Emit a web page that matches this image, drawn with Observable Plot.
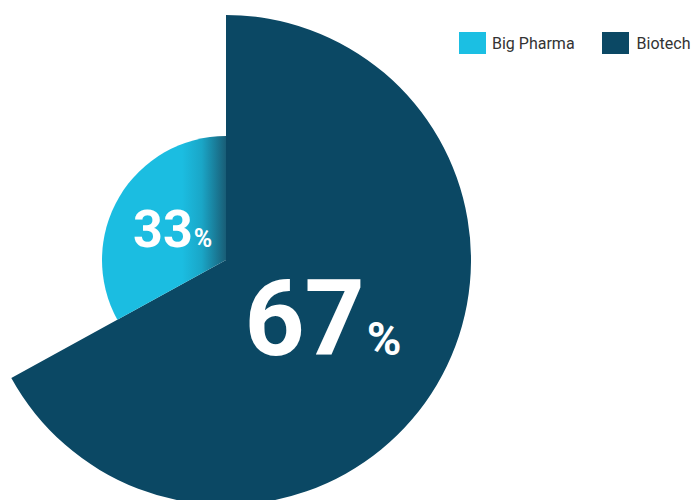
<!DOCTYPE html>
<html><head><meta charset="utf-8">
<script src="https://cdn.jsdelivr.net/npm/d3@7"></script>
<script src="https://cdn.jsdelivr.net/npm/@observablehq/plot@0.6"></script>
<style>
body{margin:0;background:#fff;font-family:Roboto,sans-serif}
#wrap{position:relative;width:691px;height:500px;overflow:hidden}
#legend{position:absolute;top:32px;left:459px;display:flex;align-items:center;font-size:16px;color:#333;white-space:nowrap;width:300px;height:22px}
.item{display:flex;align-items:center;margin-right:27px;flex:none}
.sw{width:27px;height:22px;margin-right:6px;flex:none}
.item:last-child .sw{margin-right:8px}
</style></head><body><div id="wrap"><div id="chart"></div><div id="legend"></div></div>
<script>
const categories = ["Big Pharma", "Biotech"];
const values = [33, 67];
const colors = ["#1bbfe3", "#0b4864"];

const legend = document.getElementById("legend");
categories.forEach((c, i) => {
  const it = document.createElement("div"); it.className = "item";
  const sw = document.createElement("div"); sw.className = "sw"; sw.style.background = colors[i];
  const tx = document.createElement("span"); tx.textContent = c;
  it.appendChild(sw); it.appendChild(tx); legend.appendChild(it);
});

// pie drawn biotech first (from 12 o'clock clockwise), then big pharma
const order = [1, 0];
const total = d3.sum(values);
const radii = {"Biotech": 245, "Big Pharma": 124};
const labelR = {"Biotech": 0.46, "Big Pharma": 0.5};
const fonts = {"Biotech": [105, 47, 2], "Big Pharma": [52, 25, 1]};
const CX = 226, CY = 260;

function pieMark(index, scales, channels, dimensions) {
  const svg = d3.create("svg:g");
  const cx = scales.x(CX), cy = scales.y(CY);
  let a0 = 0;
  const slices = order.map(i => {
    const a1 = a0 + values[i] / total * 2 * Math.PI;
    const s = {i, cat: categories[i], a0, a1};
    a0 = a1; return s;
  });
  const g = svg.append("g").attr("transform", `translate(${cx},${cy})`);
  for (const s of slices) {
    const arc = d3.arc().innerRadius(0).outerRadius(radii[s.cat]).startAngle(s.a0).endAngle(s.a1);
    g.append("path").attr("d", arc()).attr("fill", s.cat === "Big Pharma" ? "url(#bpgrad)" : colors[s.i]);
  }
  for (const s of slices) {
    const m = (s.a0 + s.a1) / 2, r = radii[s.cat] * labelR[s.cat];
    const x = Math.sin(m) * r, y = -Math.cos(m) * r;
    const [f1, f2, gap] = fonts[s.cat];
    const t = g.append("text").attr("x", x).attr("y", y + f1 * 0.36)
      .attr("text-anchor", "middle").attr("fill", "#fff")
      .attr("font-family", "Roboto, sans-serif").attr("font-weight", 700);
    t.append("tspan").attr("font-size", f1).text(String(values[s.i]));
    t.append("tspan").attr("font-size", f2).attr("dx", gap).text("%");
  }
  return svg.node();
}

const chart = Plot.plot({
  width: 691, height: 500,
  margin: 0,
  x: {domain: [0, 691], range: [0, 691], axis: null},
  y: {domain: [0, 500], range: [0, 500], axis: null},
  marks: [pieMark]
});
const svgSel = d3.select(chart.tagName.toLowerCase() === "svg" ? chart : chart.querySelector("svg"));
const defs = svgSel.insert("defs", ":first-child");
// gradient in the pie group's local coordinates (origin at pie centre)
const grad = defs.append("linearGradient").attr("id", "bpgrad")
  .attr("gradientUnits", "userSpaceOnUse")
  .attr("x1", -44).attr("x2", 0).attr("y1", 0).attr("y2", 0);
grad.append("stop").attr("offset", 0).attr("stop-color", "#1bbde1");
grad.append("stop").attr("offset", 0.45).attr("stop-color", "#1aa6c7");
grad.append("stop").attr("offset", 1).attr("stop-color", "#195d76");
document.getElementById("chart").appendChild(chart);
</script></body></html>
